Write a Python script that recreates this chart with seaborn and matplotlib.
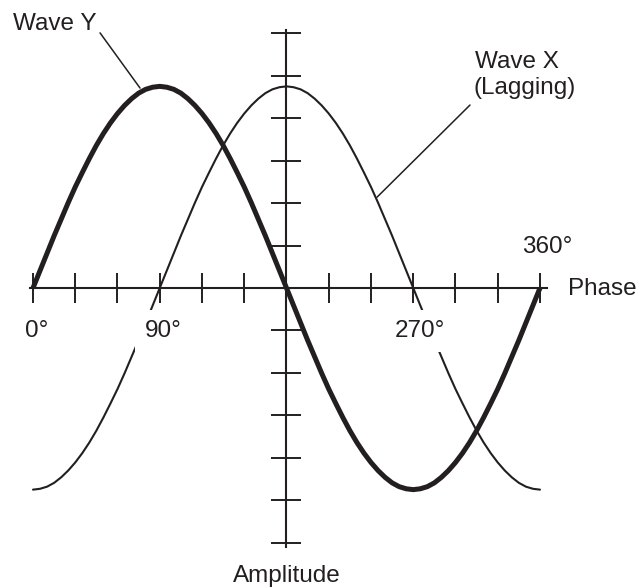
import pandas as pd
import matplotlib.pyplot as plt
import seaborn as sns

# phase in degrees, amplitude in tick steps
phase = list(range(0, 361, 5))
wave_y = [0.00, 0.41, 0.82, 1.23, 1.62, 2.01, 2.38, 2.72, 3.05, 3.36, 3.64, 3.89, 4.11, 4.30,
          4.46, 4.59, 4.68, 4.73, 4.75,
          4.73, 4.68, 4.59, 4.46, 4.30, 4.11, 3.89, 3.64, 3.36, 3.05, 2.72, 2.38, 2.01, 1.62,
          1.23, 0.82, 0.41, 0.00,
          -0.41, -0.82, -1.23, -1.62, -2.01, -2.38, -2.72, -3.05, -3.36, -3.64, -3.89, -4.11,
          -4.30, -4.46, -4.59, -4.68, -4.73, -4.75,
          -4.73, -4.68, -4.59, -4.46, -4.30, -4.11, -3.89, -3.64, -3.36, -3.05, -2.72, -2.38,
          -2.01, -1.62, -1.23, -0.82, -0.41, 0.00]
wave_x = [-4.75, -4.73, -4.68, -4.59, -4.46, -4.30, -4.11, -3.89, -3.64, -3.36, -3.05, -2.72,
          -2.38, -2.01, -1.62, -1.23, -0.82, -0.41, 0.00,
          0.41, 0.82, 1.23, 1.62, 2.01, 2.38, 2.72, 3.05, 3.36, 3.64, 3.89, 4.11, 4.30, 4.46,
          4.59, 4.68, 4.73, 4.75,
          4.73, 4.68, 4.59, 4.46, 4.30, 4.11, 3.89, 3.64, 3.36, 3.05, 2.72, 2.38, 2.01, 1.62,
          1.23, 0.82, 0.41, 0.00,
          -0.41, -0.82, -1.23, -1.62, -2.01, -2.38, -2.72, -3.05, -3.36, -3.64, -3.89, -4.11,
          -4.30, -4.46, -4.59, -4.68, -4.73, -4.75]
phase_ticks = [0, 30, 60, 90, 120, 150, 180, 210, 240, 270, 300, 330, 360]
amp_ticks = [-6, -5, -4, -3, -2, -1, 0, 1, 2, 3, 4, 5, 6]

df_y = pd.DataFrame({'Phase': phase, 'Amplitude': wave_y})
df_x = pd.DataFrame({'Phase': phase, 'Amplitude': wave_x})

sns.set_style('white')
plt.rcParams['font.family'] = ['Liberation Sans', 'DejaVu Sans']

ink = '#231f20'
fs = 17.5

fig = plt.figure(figsize=(6.4, 5.87), dpi=100)
ax = fig.add_axes([0, 0, 1, 1])
ax.set_xlim(-33 / 1.4083, 607 / 1.4083)
ax.set_ylim(-299 / 42.45, 288 / 42.45)

sns.lineplot(data=df_x, x='Phase', y='Amplitude', ax=ax, color=ink, linewidth=1.5,
             estimator=None, sort=False, zorder=1, legend=False)
sns.lineplot(data=df_y, x='Phase', y='Amplitude', ax=ax, color=ink, linewidth=3.6,
             estimator=None, sort=False, zorder=4, legend=False, solid_capstyle='butt')

# axes crossing in the middle
for side in ['top', 'right']:
    ax.spines[side].set_visible(False)
ax.spines['bottom'].set_position(('data', 0))
ax.spines['left'].set_position(('data', 180))
ax.spines['bottom'].set_bounds(-2, 365)
ax.spines['left'].set_bounds(-6.1, 6.08)
for side in ['bottom', 'left']:
    ax.spines[side].set_linewidth(1.5)
    ax.spines[side].set_color(ink)
ax.set_axisbelow(False)
ax.set_xticks(phase_ticks)
ax.set_yticks(amp_ticks)
ax.set_xticklabels([])
ax.set_yticklabels([])
ax.tick_params(bottom=True, left=True, direction='inout', length=21, width=1.4, color=ink)
ax.set_xlabel('')
ax.set_ylabel('')

# phase labels, white boxes break the lagging wave
gap = dict(facecolor='white', edgecolor='none', boxstyle='square,pad=0.4')
ax.text(-5.7, -1.154, '0°', fontsize=fs, color=ink, va='baseline')
ax.text(79.5, -1.154, '90°', fontsize=fs, color=ink, va='baseline', bbox=gap, zorder=1.2)
ax.text(257, -1.154, '270°', fontsize=fs, color=ink, va='baseline', bbox=gap, zorder=1.2)
ax.text(347.2, 0.82, '360°', fontsize=fs, color=ink, va='baseline')
ax.text(379.9, -0.165, 'Phase', fontsize=fs, color=ink, va='baseline')
ax.text(180, -6.93, 'Amplitude', fontsize=fs, color=ink, va='baseline', ha='center')

# callouts
ax.text(-14.2, 6.08, 'Wave Y', fontsize=fs, color=ink, va='baseline')
ax.plot([47.6, 76.0], [6.01, 4.71], color=ink, linewidth=1.1)
ax.text(313.9, 5.19, 'Wave X', fontsize=fs, color=ink, va='baseline')
ax.text(313.0, 4.58, '(Lagging)', fontsize=fs, color=ink, va='baseline')
ax.plot([310.3, 244.3], [4.31, 2.14], color=ink, linewidth=1.1)

fig.savefig('out.png', dpi=100)
